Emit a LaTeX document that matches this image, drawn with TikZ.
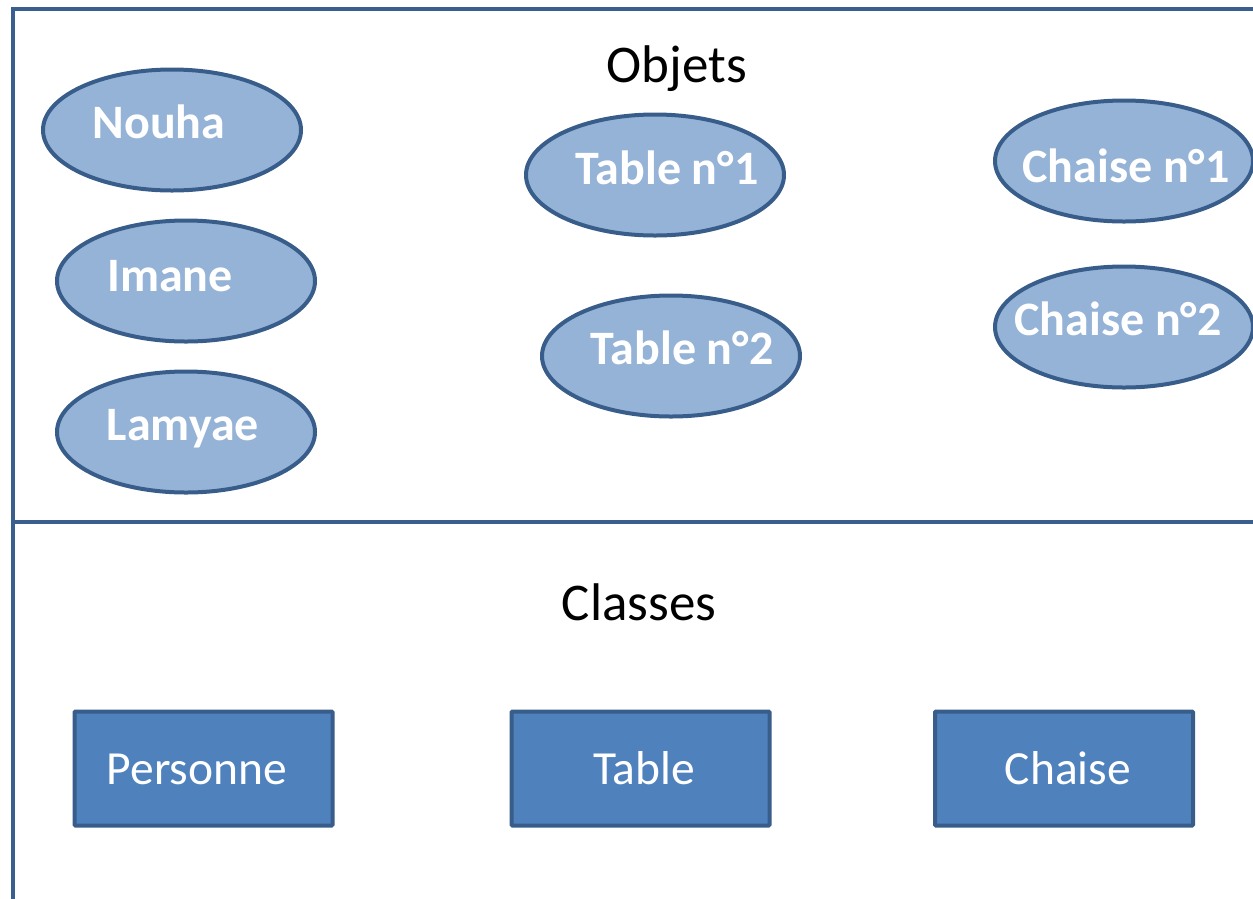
\documentclass[tikz,border=0pt]{standalone}
\usepackage{fontspec}
\setmainfont{Carlito}
\usetikzlibrary{shapes.geometric}
\definecolor{framec}{HTML}{3A5F8F}
\definecolor{edgec}{HTML}{385D8A}
\definecolor{ellfill}{HTML}{95B3D7}
\definecolor{boxfill}{HTML}{4F81BD}
\tikzset{
  objell/.style={ellipse, draw=edgec, fill=ellfill, line width=4pt, minimum width=258pt, minimum height=121pt, inner sep=0pt},
  objtxt/.style={anchor=base, text=white, font=\fontsize{48}{50}\selectfont\bfseries, inner sep=0pt},
  classbox/.style={rectangle, draw=edgec, fill=boxfill, line width=4pt, minimum width=258pt, minimum height=114pt, inner sep=0pt, rounded corners=1pt},
  classtxt/.style={anchor=base, text=white, font=\fontsize{47.5}{50}\selectfont, inner sep=0pt},
  titletxt/.style={anchor=base, text=black, font=\fontsize{53}{56}\selectfont, inner sep=0pt},
  frameline/.style={draw=framec, line width=4pt}
}
\begin{document}
\begin{tikzpicture}[x=1pt, y=-1pt]
\useasboundingbox (0,0) rectangle (1253,898);
% frame
\coordinate (fbl) at (13,900);
\coordinate (ftl) at (13,9);
\coordinate (ftr) at (1256,9);
\coordinate (fml) at (13,522);
\coordinate (fmr) at (1256,522);
\draw[frameline] (fbl) -- (ftl) -- (ftr);
\draw[frameline] (fml) -- (fmr);
% titles
\node[titletxt] (objets) at (677,82) {Objets};
\node[titletxt] (classes) at (639,620) {Classes};
% objects
\node[objell] (nouha) at (172,130) {};
\node[objtxt] (nouhaT) at (159,138) {Nouha};
\node[objell] (imane) at (186,281) {};
\node[objtxt] (imaneT) at (170,291) {Imane};
\node[objell] (lamyae) at (186,432) {};
\node[objtxt] (lamyaeT) at (183,440) {Lamyae};
\node[objell] (table1) at (655,175) {};
\node[objtxt] (table1T) at (667,184) {Table n°1};
\node[objell] (table2) at (671,356) {};
\node[objtxt] (table2T) at (682,364) {Table n°2};
\node[objell] (chaise1) at (1124,161) {};
\node[objtxt] (chaise1T) at (1126,182) {Chaise n°1};
\node[objell] (chaise2) at (1124,327) {};
\node[objtxt] (chaise2T) at (1118,335) {Chaise n°2};
% classes
\node[classbox] (personne) at (203.5,768.5) {};
\node[classtxt] (personneT) at (197,784) {Personne};
\node[classbox] (table) at (640.5,768.5) {};
\node[classtxt] (tableT) at (644,784) {Table};
\node[classbox] (chaise) at (1064,768.5) {};
\node[classtxt] (chaiseT) at (1068,784) {Chaise};
\end{tikzpicture}
\end{document}
